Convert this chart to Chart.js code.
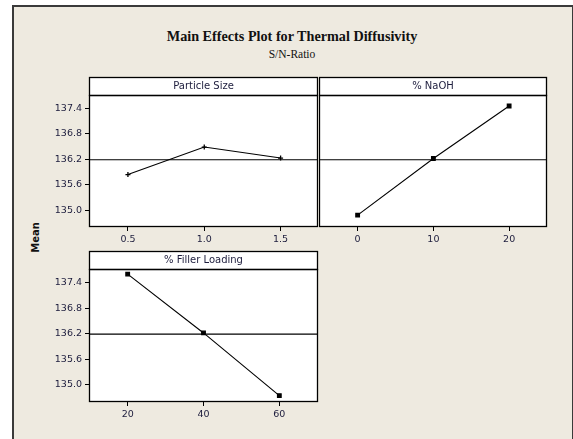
<!DOCTYPE html>
<html>
<head>
<meta charset="utf-8">
<script src="https://cdn.jsdelivr.net/npm/chart.js@4"></script>
<style>
  html, body { margin: 0; padding: 0; background: #ffffff; }
  #frame {
    position: absolute; left: 12px; top: 5px; width: 558px; height: 440px;
    background: #eeeae0; border: 2px solid #3a3a3a; border-bottom: none;
  }
  canvas { position: absolute; }
  .txt { position: absolute; white-space: nowrap; color: #111; }
</style>
</head>
<body>
<div id="frame"></div>
<div class="txt" style="left:0;width:584px;top:28px;text-align:center;font:bold 14.2px 'Liberation Serif';">Main Effects Plot for Thermal Diffusivity</div>
<div class="txt" style="left:0;width:584px;top:48px;text-align:center;font:11.5px 'Liberation Serif';">S/N-Ratio</div>
<div class="txt" style="left:17px;top:232px;width:36px;text-align:center;font:bold 10px 'DejaVu Sans';transform:rotate(-90deg);">Mean</div>
<canvas id="chartParticula" style="left:39px;top:76px;" width="281" height="170"></canvas>
<canvas id="chartNaoh" style="left:319px;top:76px;" width="230" height="170"></canvas>
<canvas id="chartCarga" style="left:39px;top:250px;" width="281" height="171"></canvas>
<script>
// valores (médias S/N)
const tamanhoParticula = [0.5, 1.0, 1.5]
const mediaParticula = [135.84, 136.49, 136.23]

const percentNaoh = [0, 10, 20]
const mediaNaoh = [134.88, 136.22, 137.46]

const percentCarga = [20, 40, 60]
const mediaCarga = [137.60, 136.22, 134.75]

const ticksY = [135.0, 135.6, 136.2, 136.8, 137.4]
const mediaGeral = 136.19

const corTexto = '#1c1c3c'
const fonteTick = { family: 'DejaVu Sans', size: 9.5 }

// desenha o fundo branco, a faixa com o nome do fator e a linha da média
const painelPlugin = {
  id: 'painel',
  beforeDraw(chart) {
    const a = chart.chartArea
    const ctx = chart.ctx
    ctx.save()
    ctx.fillStyle = '#ffffff'
    ctx.fillRect(a.left, a.top - 18, a.right - a.left, a.bottom - a.top + 18)
    ctx.restore()
  },
  afterDraw(chart) {
    const a = chart.chartArea
    const ctx = chart.ctx
    const opts = chart.options.plugins.painel
    ctx.save()
    ctx.strokeStyle = '#000000'
    ctx.lineWidth = 1.3
    ctx.strokeRect(a.left + 0.5, a.top - 18 + 0.5, a.right - a.left - 1, 18)
    ctx.strokeRect(a.left + 0.5, a.top + 0.5, a.right - a.left - 1, a.bottom - a.top - 1)
    const yMedia = chart.scales.y.getPixelForValue(mediaGeral)
    ctx.lineWidth = 1.2
    ctx.beginPath()
    ctx.moveTo(a.left, yMedia)
    ctx.lineTo(a.right, yMedia)
    ctx.stroke()
    ctx.fillStyle = corTexto
    ctx.font = "10px 'DejaVu Sans'"
    ctx.textAlign = 'center'
    ctx.textBaseline = 'middle'
    ctx.fillText(opts.rotulo, (a.left + a.right) / 2, a.top - 9)
    ctx.restore()
  }
}

function criarPainel(canvas, xs, ys, ticksX, casas, minX, maxX, rotulo, mostrarY, ponto) {
  const config = {
    type: 'line',
    data: {
      datasets: [{
        data: xs.map((x, i) => ({ x: x, y: ys[i] })),
        borderColor: '#000000',
        backgroundColor: '#000000',
        borderWidth: 1.1,
        pointStyle: ponto,
        pointRadius: 2.5,
        pointBorderWidth: 1.3,
        tension: 0
      }]
    },
    options: {
      responsive: false,
      animation: false,
      layout: { autoPadding: false, padding: { top: 19, right: 2, left: 0, bottom: 0 } },
      plugins: {
        legend: { display: false },
        tooltip: { enabled: false },
        painel: { rotulo: rotulo }
      },
      scales: {
        x: {
          type: 'linear',
          min: minX,
          max: maxX,
          afterBuildTicks: (s) => { s.ticks = ticksX.map(v => ({ value: v })) },
          afterFit: (s) => { s.height = 19 },
          grid: { drawOnChartArea: false, tickLength: 4, color: '#000000' },
          border: { display: false },
          ticks: {
            color: corTexto, font: fonteTick, padding: 3, maxRotation: 0,
            callback: (v) => v.toFixed(casas)
          }
        },
        y: {
          display: mostrarY,
          min: 134.6,
          max: 137.72,
          afterBuildTicks: (s) => { s.ticks = ticksY.map(v => ({ value: v })) },
          afterFit: (s) => { s.width = mostrarY ? 50 : 0 },
          grid: { drawOnChartArea: false, tickLength: 4, color: '#000000' },
          border: { display: false },
          ticks: {
            color: corTexto, font: fonteTick, padding: 3,
            callback: (v) => v.toFixed(1)
          }
        }
      }
    },
    plugins: [painelPlugin]
  }
  return new Chart(canvas, config)
}

criarPainel(document.getElementById('chartParticula'), tamanhoParticula, mediaParticula,
  [0.5, 1.0, 1.5], 1, 0.245, 1.745, 'Particle Size', true, 'cross')
criarPainel(document.getElementById('chartNaoh'), percentNaoh, mediaNaoh,
  [0, 10, 20], 0, -5.1, 25, '% NaOH', false, 'rect')
criarPainel(document.getElementById('chartCarga'), percentCarga, mediaCarga,
  [20, 40, 60], 0, 9.8, 70.2, '% Filler Loading', true, 'rect')
</script>
</body>
</html>
